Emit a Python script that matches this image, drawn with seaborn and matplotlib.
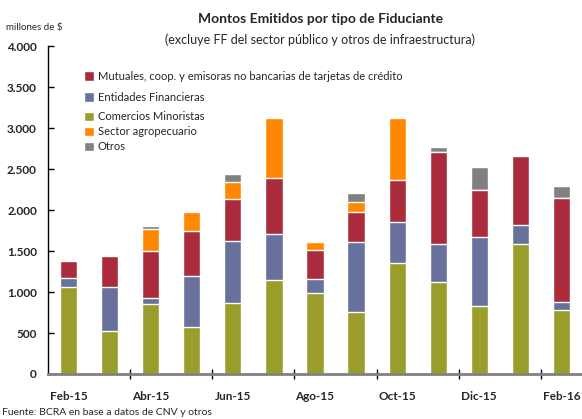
import numpy as np
import pandas as pd
import matplotlib
matplotlib.use("Agg")
import matplotlib.pyplot as plt
import seaborn as sns
from matplotlib.patches import Patch
from matplotlib.ticker import FuncFormatter, FixedLocator

# Data (millones de $)
months = ["Feb-15", "Mar-15", "Abr-15", "May-15", "Jun-15", "Jul-15", "Ago-15",
          "Sep-15", "Oct-15", "Nov-15", "Dic-15", "Ene-16", "Feb-16"]
comercios = [1060, 525, 855, 573, 870, 1146, 988, 760, 1354, 1122, 829, 1585, 780]
entidades = [113, 536, 75, 626, 752, 561, 171, 850, 500, 463, 842, 232, 98]
mutuales = [205, 378, 570, 545, 512, 683, 353, 366, 512, 1122, 573, 842, 1268]
agro = [0, 0, 268, 232, 207, 732, 98, 122, 756, 0, 0, 0, 0]
otros = [0, 0, 37, 0, 102, 0, 0, 109, 0, 61, 280, 0, 147]

labels = ["Comercios Minoristas", "Entidades Financieras",
          "Mutuales, coop. y emisoras no bancarias de tarjetas de crédito",
          "Sector agropecuario", "Otros"]
colors = ["#9A9C2C", "#67719C", "#AA2C3C", "#FF8800", "#808080"]

df = pd.DataFrame({"mes": months, labels[0]: comercios, labels[1]: entidades,
                   labels[2]: mutuales, labels[3]: agro, labels[4]: otros})
cum = df[labels].cumsum(axis=1)

sns.set_theme(style="white")
plt.rcParams["font.family"] = ["Lato", "DejaVu Sans"]

fig = plt.figure(figsize=(5.82, 4.19), dpi=100)
ax = fig.add_axes([0.0825, 0.1074, 0.9175, 0.7826])

# draw cumulative totals from the top layer down so they stack
for lab, col in zip(labels[::-1], colors[::-1]):
    sns.barplot(x=df["mes"], y=cum[lab], color=col, width=0.42,
                saturation=1, ax=ax, order=months)

ax.set_xlim(-0.5, len(months) - 0.5)
ax.set_ylim(0, 4000)
ax.set_xlabel("")
ax.set_ylabel("")

ax.yaxis.set_major_locator(FixedLocator(np.arange(0, 4001, 500)))
ax.yaxis.set_major_formatter(FuncFormatter(lambda v, p: f"{int(v):,}".replace(",", ".")))
ax.tick_params(axis="y", direction="in", length=4, width=1, color="black",
               labelsize=8.5, pad=8, left=True)
for t in ax.get_yticklabels():
    t.set_fontweight("bold")

ax.set_xticks(range(0, len(months), 2))
ax.set_xticklabels(months[::2], fontweight="bold", fontsize=8.5)
ax.set_xticks(np.arange(1.5, len(months) - 1, 2), minor=True)
ax.tick_params(axis="x", which="major", length=0, pad=12)
ax.tick_params(axis="x", which="minor", direction="inout", length=7, width=1,
               color="black", bottom=True)

sns.despine(ax=ax)
ax.spines["left"].set_color("black")
ax.spines["left"].set_linewidth(1)
ax.spines["bottom"].set_color("#808080")
ax.spines["bottom"].set_linewidth(2)
ax.grid(False)

# legends (two blocks to mimic the uneven spacing)
h_top = [Patch(facecolor=colors[2], label=labels[2]),
         Patch(facecolor=colors[1], label=labels[1])]
h_bot = [Patch(facecolor=colors[0], label=labels[0]),
         Patch(facecolor=colors[3], label=labels[3]),
         Patch(facecolor=colors[4], label=labels[4])]
leg1 = ax.legend(handles=h_top, loc="upper left", bbox_to_anchor=(0.06, 0.938),
                 frameon=False, fontsize=8, handlelength=0.9, handleheight=0.9,
                 handletextpad=0.3, labelspacing=0.9, borderaxespad=0)
ax.add_artist(leg1)
ax.legend(handles=h_bot, loc="upper left", bbox_to_anchor=(0.06, 0.815),
          frameon=False, fontsize=8, handlelength=0.9, handleheight=0.9,
          handletextpad=0.3, labelspacing=0.35, borderaxespad=0)

fig.text(0.55, 0.955, "Montos Emitidos por tipo de Fiduciante", ha="center",
         va="center", fontsize=10, fontweight="bold")
fig.text(0.55, 0.905, "(excluye FF del sector público y otros de infraestructura)",
         ha="center", va="center", fontsize=9)
fig.text(0.01, 0.935, "millones de $", ha="left", va="center", fontsize=7)
fig.text(0.003, 0.015, "Fuente: BCRA en base a datos de CNV y otros", ha="left",
         va="center", fontsize=7.5)

fig.savefig("out.png", dpi=100)
